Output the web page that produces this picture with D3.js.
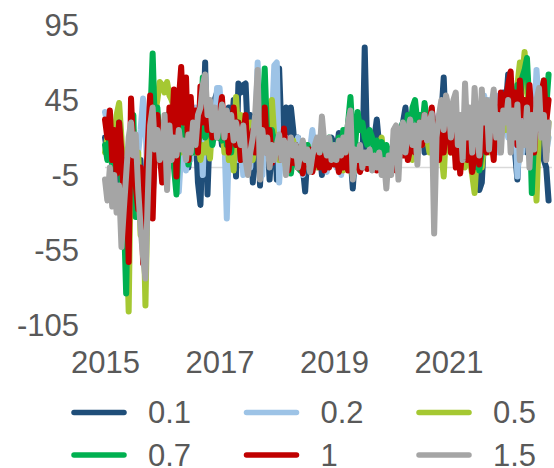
<!DOCTYPE html>
<html>
<head>
<meta charset="utf-8">
<script src="https://cdn.jsdelivr.net/npm/d3@7"></script>
<style>
  html, body { margin: 0; padding: 0; background: #ffffff; }
  svg { display: block; font-family: "Liberation Sans", Arial, sans-serif; }
</style>
</head>
<body>
<svg id="chart" width="554" height="468"></svg>
<script>
// Semi-monthly readings, January 2015 to October 2022 (24 per year, 19 in 2022)
const firstYear = 2015;
const lastYear = 2022;
const pointsInLastYear = 19;

const seriesNames = ["0.1", "0.2", "0.5", "0.7", "1", "1.5"];
const seriesColors = ["#1F4E79", "#9DC3E6", "#A5C832", "#00B050", "#C00000", "#A5A5A5"];

const s01 = [
  20, 10, 25, 0, 15, -10, 20, 5, -30, -10, -30, 25, 10, -15, -20, 5, -40, -25, 10, 30, -20, 15, 25, 5,
  15, 25, 5, 30, 20, 35, 10, 28, 40, 15, 30, 0, 20, 10, 25, -10, -25, 20, 70, -18, 30, 25, 45, 50,
  30, 15, 35, 10, 40, 20, 45, -6, 56, 50, 55, 56, 20, 35, -10, 15, 30, -12, 20, 10, 25, -8, 15, 30,
  -8, 66, 20, 35, 40, 15, 40, 25, 5, 20, 10, 0, -16, 10, 15, 0, 20, 5, 12, -5, 18, 8, 15, 20,
  15, 10, 23, 5, 12, 0, 15, 8, -14, 10, 5, 15, 0, 80, 10, 3, 12, 20, 32, 15, 5, 10, 0, 12,
  5, 10, 15, 20, 25, 30, 40, 20, 35, 25, 15, 30, 20, 35, 10, 25, 30, 15, 20, 25, 10, 35, 60, 20,
  25, 30, 15, 35, 20, 10, 30, 15, 25, 5, 20, 0, 10, -15, -10, 20, 30, 15, 40, 25, 30, 45, 35, 50,
  40, 62, 35, 20, 10, -8, 25, 15, 30, 10, 20, 5, 25, 15, 10, 20, 5, 0, -22
];

const s02 = [
  37, 30, 36, 20, 25, 10, 15, 0, -20, -5, -30, 20, 5, -10, 10, 25, 46, 30, -15, 10, 35, 20, 15, 25,
  30, 15, 25, 10, 20, 45, 30, -16, 10, 20, -2, 15, 5, 25, 40, 10, 30, -5, 45, 20, 35, 15, 30, 53,
  53, 30, 20, -34, 15, 25, 10, 30, 5, 20, -5, 15, 25, 0, 30, 15, 70, 20, -5, 25, 40, 10, 30, 68,
  70, -10, 15, 5, 20, 10, 0, 15, 8, 20, 5, -5, 10, 3, 12, 25, 8, 0, 15, 5, 10, -3, 12, 5,
  10, 0, 8, -5, 12, 5, 15, 0, 10, -3, 8, 12, 5, 0, 10, 3, 15, 0, 8, 5, -2, 10, 5, 12,
  5, 10, 15, 8, 20, 12, 25, 15, 20, 10, 25, 30, 15, 28, 20, 35, 25, 38, 30, 20, 35, 25, 30, 18,
  20, 30, 10, 35, 25, 15, 30, 20, 10, 25, 35, 15, 30, 40, 20, 48, 30, 45, 25, 35, 48, 10, 40, 25,
  30, 20, 40, 15, 35, -6, 25, 10, 35, 20, 40, 15, 30, 65, 40, 25, 45, 10, 20
];

const s05 = [
  10, 20, 5, 30, 15, 35, 43, 20, -10, -30, -96, 15, 25, -5, 10, -45, -20, -92, -10, 40, 20, 35, 45, 57,
  55, 50, 57, 48, 45, 40, 20, 35, 10, 25, 30, 15, 25, 35, 10, 20, 5, 15, 10, 18, 6, 30, 20, 35,
  20, 30, 10, 25, 5, 15, -2, 47, 20, 35, 10, 25, 15, 30, 5, 20, 35, 10, 25, 40, 15, 30, 45, 20,
  15, 5, 20, 10, 0, 15, 8, 18, 3, 12, 0, 10, 5, 15, -2, 8, 12, 0, 10, 5, 15, 2, 8, 12,
  5, 10, 0, 12, -2, 8, 3, 10, -6, 5, 12, 0, 8, 3, 10, 5, 0, 12, 8, 15, 20, 5, 10, 0,
  5, 10, 0, 15, 8, 20, 10, 25, 15, 5, 20, 10, 25, 15, 30, 20, 10, 25, 15, 30, 20, 10, -6, 25,
  20, 10, 25, 15, 5, 20, 10, 0, 15, 5, -5, -17, 10, 20, 0, 15, 25, 10, 30, 20, 35, 25, 40, 30,
  25, 35, 20, 40, 30, 55, 70, 60, 77, 50, 40, 20, 10, -22, 25, 48, 35, 10, 30
];

const s07 = [
  15, 5, 25, 0, 20, 5, 30, -10, -30, -84, 10, 25, 35, -33, 0, -15, -40, -20, 5, 30, 76, 25, 40, 15,
  28, 20, 35, 10, 15, 0, -18, 20, 30, 15, 25, 2, 20, 10, 30, 15, 25, 60, 20, 25, 30, 15, 25, 20,
  20, 18, 30, 15, 25, 10, 35, 20, 30, 5, 25, 15, 0, 20, 10, 25, 40, 15, 30, 66, 20, 10, 25, 15,
  20, 10, 15, 5, 12, 0, -4, 8, 15, 0, -2, 10, 5, 15, 8, 0, 12, 5, 18, 10, 15, 5, 20, 10,
  15, 5, 20, 10, 25, 15, 30, 47, 20, 15, 37, 25, 30, 20, 15, 25, 20, 10, 18, 12, 17, 8, 15, 10,
  10, 15, 20, 12, 25, 30, 20, 35, 25, 40, 45, 30, 35, 25, 43, 30, 20, 35, 25, 30, 15, 25, 20, 30,
  25, 15, 30, 20, 10, 25, 15, 30, 20, 10, 5, 0, 15, -2, 10, 20, 30, 15, 25, 35, 20, 40, 30, 45,
  35, 45, 30, 50, 40, 55, 45, 60, 65, 73, 40, -17, 20, 30, 45, 35, 58, 40, 62
];

const s10 = [
  32, 20, 38, 5, 25, -4, 30, 10, -20, 5, -63, 46, 10, -12, -28, 0, -64, -20, 15, 48, -34, 20, 35, 10,
  -10, 25, -8, 40, 20, 52, -6, 45, 67, 30, 60, 5, 47, 20, 38, 10, 54, 30, 45, 25, 40, 20, 35, 28,
  35, 47, 20, 30, 10, 25, 40, 15, 30, 5, 20, 35, 0, 15, 25, 10, 30, 5, 20, 40, 10, 25, 3, 15,
  10, 20, 5, 26, 8, -2, 12, 3, 15, 0, 8, -4, 10, 2, 12, -3, 5, 10, 0, 8, -2, 6, 0, 10,
  2, 8, -3, 5, 0, 10, -2, 4, 8, 0, 5, -3, 3, 6, -1, 4, 0, 7, -2, 5, 2, -4, 3, 0,
  0, 5, -2, 10, 15, 8, 20, 5, 12, 25, 10, 18, 30, 15, 35, 20, 28, 40, 15, 30, 5, 25, 10, 30,
  35, 10, 25, 0, 20, -4, 15, 27, 5, 20, -3, 10, 25, 2, 18, 30, 10, 35, 20, 5, 40, 25, 50, 30,
  45, 55, 64, 30, 50, 15, 58, 35, 45, 20, 55, 32, 10, 40, 25, 50, 58, 30, 45
];

const s15 = [
  -8, -22, 0, -26, -5, -30, -12, -53, -28, -5, 20, 30, 8, 22, -15, -40, -60, -74, -20, 28, 40, 12, 25, 5,
  10, 35, -15, 28, 5, 20, 8, 25, 12, 18, 5, 22, 10, 30, 15, 35, 40, 55, 62, 35, 45, 25, 40, 20,
  30, 42, 20, 38, 25, 35, 18, 30, 22, 15, 28, 5, -5, 10, 20, 35, 65, -8, 25, 10, 20, 0, 15, 5,
  15, 22, 5, 18, -5, 12, 20, 8, 15, 0, 10, 18, 5, 12, -3, 8, 15, 20, 10, 34, 15, 8, 20, 5,
  15, 5, 18, 8, 20, 10, 30, 38, -8, 12, 5, 15, 0, 10, 3, 12, -2, 8, 0, 10, -5, 5, -14, 8,
  -5, 25, 28, -8, 22, 30, 10, 25, 32, 15, 28, 2, 30, 20, 35, 18, 30, 36, -44, 20, 35, 45, 25, 48,
  40, 20, 45, 50, 15, 35, 5, 56, 20, 40, 10, 53, 25, 8, 52, 30, 45, 12, 40, 52, 20, 35, 10, 38,
  30, 45, 10, 38, 20, 42, 5, 30, 15, 40, 0, 35, 12, 45, 53, 20, 35, 5, 30
];

const yTicks = [95, 45, -5, -55, -105];
const xTickYears = [2015, 2017, 2019, 2021];

// Observation dates: 1st and 16th of every month
const dates = [];
for (let yr = firstYear; yr <= lastYear; yr++) {
  const n = yr === lastYear ? pointsInLastYear : 24;
  for (let i = 0; i < n; i++) dates.push(new Date(yr, Math.floor(i / 2), i % 2 ? 16 : 1));
}

const seriesValues = [s01, s02, s05, s07, s10, s15];
const series = seriesNames.map((name, k) => ({
  name,
  color: seriesColors[k],
  points: dates.map((d, i) => ({ date: d, v: seriesValues[k][i] }))
}));

const svg = d3.select("#chart");
const textColor = "#595959";
const fontSize = 31;
const fontFamily = "Liberation Sans, Arial, sans-serif";

const x = d3.scaleTime()
  .domain([new Date(2015, 0, 1), new Date(2023, 0, 1)])
  .range([105, 563]);
const y = d3.scaleLinear().domain([-105, 95]).range([325, 25]);

// zero line
svg.append("line")
  .attr("x1", 105).attr("x2", 552)
  .attr("y1", y(0)).attr("y2", y(0))
  .attr("stroke", "#D9D9D9").attr("stroke-width", 1.5);

const line = d3.line()
  .x(d => x(d.date))
  .y(d => y(d.v));

svg.append("g").selectAll("path")
  .data(series)
  .join("path")
  .attr("d", d => line(d.points))
  .attr("fill", "none")
  .attr("stroke", d => d.color)
  .attr("stroke-width", 6)
  .attr("stroke-linejoin", "round")
  .attr("stroke-linecap", "round");

// y axis labels (plain hyphen for negatives)
const yAxis = d3.axisLeft(y)
  .tickValues(yTicks)
  .tickFormat(d => String(d))
  .tickSize(0).tickPadding(0);
const gy = svg.append("g").attr("transform", "translate(79,0)").call(yAxis);
gy.select(".domain").remove();
gy.selectAll("text")
  .attr("fill", textColor)
  .attr("font-size", fontSize)
  .attr("font-family", fontFamily)
  .attr("dy", "0.35em");

// x axis labels
const xAxis = d3.axisBottom(x)
  .tickValues(xTickYears.map(yr => new Date(yr, 0, 1)))
  .tickFormat(d3.timeFormat("%Y"))
  .tickSize(0).tickPadding(0);
const gx = svg.append("g").attr("transform", "translate(0,350)").call(xAxis);
gx.select(".domain").remove();
gx.selectAll("text")
  .attr("fill", textColor)
  .attr("font-size", fontSize)
  .attr("font-family", fontFamily)
  .attr("dy", "0.75em");

// legend: three columns, two rows
const legendCols = [71, 243.5, 416];
const legendRows = [412.5, 455];
const legend = svg.append("g").selectAll("g")
  .data(series)
  .join("g")
  .attr("transform", (d, i) => `translate(${legendCols[i % 3]},${legendRows[Math.floor(i / 3)]})`);
legend.append("line")
  .attr("x1", 3).attr("x2", 53)
  .attr("stroke", d => d.color)
  .attr("stroke-width", 5.5)
  .attr("stroke-linecap", "round");
legend.append("text")
  .attr("x", 77)
  .attr("dy", "0.35em")
  .attr("fill", textColor)
  .attr("font-size", fontSize)
  .attr("font-family", fontFamily)
  .text(d => d.name);
</script>
</body>
</html>
